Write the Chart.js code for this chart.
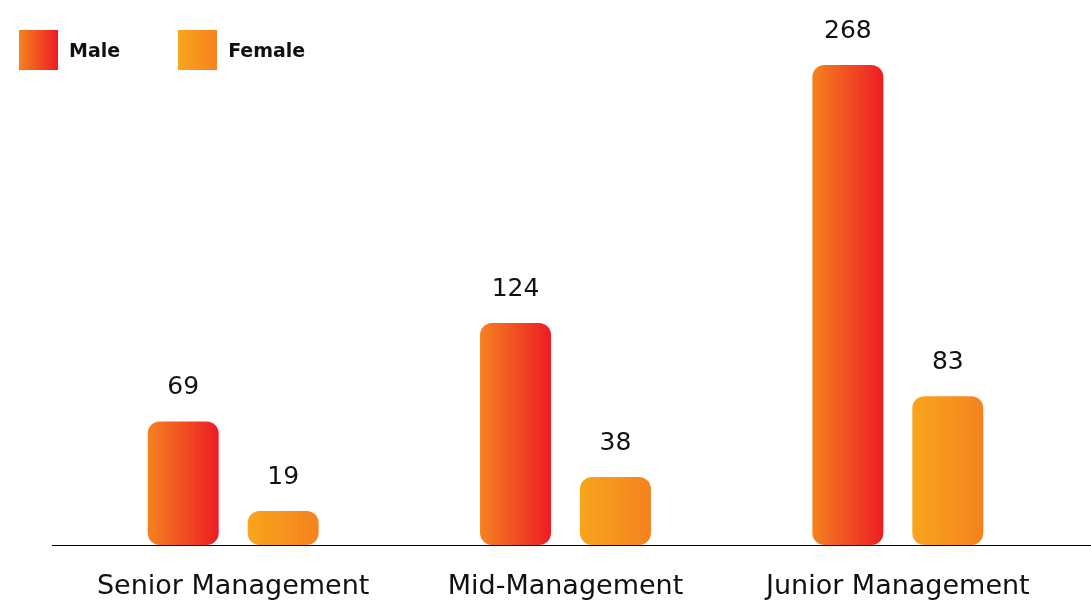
<!DOCTYPE html>
<html>
<head>
<meta charset="utf-8">
<script src="https://cdn.jsdelivr.net/npm/chart.js@4/dist/chart.umd.min.js"></script>
<style>
  html, body { margin: 0; padding: 0; background: #fff; }
  #wrap { position: relative; width: 1091px; height: 603px; }
  #legend { position: absolute; left: 19px; top: 30px; display: flex; font-family: "DejaVu Sans", sans-serif; font-weight: 700; font-size: 19px; color: #111; }
  .item { display: flex; align-items: center; margin-right: 58px; }
  .swatch { width: 39px; height: 40px; margin-right: 11px; }
</style>
</head>
<body>
<div id="wrap">
  <canvas id="c" width="1091" height="603"></canvas>
  <div id="legend"></div>
</div>
<script>
const categories = ["Senior Management", "Mid-Management", "Junior Management"];
const maleCounts = [69, 124, 268];
const femaleCounts = [19, 38, 83];
const seriesNames = ["Male", "Female"];

// left-to-right gradient stops for each series
const gradientStops = [
  ["#F5821F", "#ED1C24"],
  ["#F8A51C", "#F5821F"]
];

const FONT = '"DejaVu Sans", sans-serif';

// paint every bar with a horizontal gradient across its own width
const barGradients = {
  id: 'barGradients',
  beforeDatasetsDraw(chart) {
    const ctx = chart.ctx;
    chart.data.datasets.forEach((ds, di) => {
      chart.getDatasetMeta(di).data.forEach(bar => {
        const g = ctx.createLinearGradient(bar.x - bar.width / 2, 0, bar.x + bar.width / 2, 0);
        g.addColorStop(0, gradientStops[di][0]);
        g.addColorStop(1, gradientStops[di][1]);
        bar.options = Object.assign({}, bar.options, { backgroundColor: g });
      });
    });
  }
};

// value labels above bars and the baseline along zero
const valueLabels = {
  id: 'valueLabels',
  afterDatasetsDraw(chart) {
    const ctx = chart.ctx;
    const y0 = Math.round(chart.scales.y.getPixelForValue(0)) + 0.5;
    ctx.save();
    ctx.strokeStyle = '#000';
    ctx.lineWidth = 1.2;
    ctx.beginPath();
    ctx.moveTo(52, y0);
    ctx.lineTo(chart.width, y0);
    ctx.stroke();
    ctx.fillStyle = '#111';
    ctx.font = '25px ' + FONT;
    ctx.textAlign = 'center';
    ctx.textBaseline = 'alphabetic';
    chart.data.datasets.forEach((ds, di) => {
      chart.getDatasetMeta(di).data.forEach((bar, i) => {
        ctx.fillText(String(ds.data[i]), bar.x, bar.y - 27);
      });
    });
    ctx.restore();
  }
};

const chart = new Chart(document.getElementById('c'), {
  type: 'bar',
  data: {
    labels: categories,
    datasets: [
      { label: seriesNames[0], data: maleCounts },
      { label: seriesNames[1], data: femaleCounts }
    ].map(d => Object.assign(d, {
      backgroundColor: (c) => gradientStops[c.datasetIndex][0],
      borderRadius: 12,
      borderSkipped: false,
      categoryPercentage: 0.6015,
      barPercentage: 0.71
    }))
  },
  options: {
    responsive: false,
    animation: false,
    layout: { padding: { left: 67, right: 27, top: 65, bottom: 2 } },
    plugins: { legend: { display: false }, tooltip: { enabled: false } },
    scales: {
      x: {
        grid: { display: false, drawTicks: false },
        border: { display: false },
        ticks: { color: '#111', font: { family: FONT, size: 27 }, padding: 26 },
        afterFit: (s) => { s.height = 56; }
      },
      y: {
        display: false,
        min: 0,
        max: 268
      }
    }
  },
  plugins: [barGradients, valueLabels]
});

// legend built from the datasets
const legend = document.getElementById('legend');
chart.data.datasets.forEach((ds, i) => {
  const item = document.createElement('div');
  item.className = 'item';
  const sw = document.createElement('div');
  sw.className = 'swatch';
  sw.style.background = 'linear-gradient(to right, ' + gradientStops[i][0] + ', ' + gradientStops[i][1] + ')';
  const txt = document.createElement('span');
  txt.textContent = ds.label;
  item.appendChild(sw);
  item.appendChild(txt);
  legend.appendChild(item);
});
</script>
</body>
</html>
